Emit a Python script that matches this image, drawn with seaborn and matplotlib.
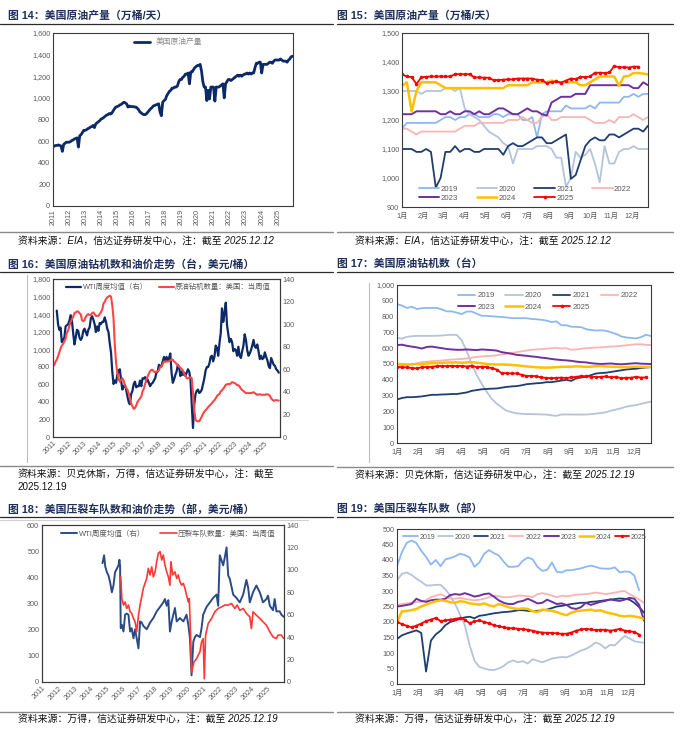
import numpy as np
import matplotlib
matplotlib.use("Agg")
import matplotlib.pyplot as plt
import seaborn as sns
from matplotlib.lines import Line2D
from matplotlib.ticker import FuncFormatter

# ---------------- data ----------------
hist_years = list(range(2011, 2026))
month_labels = ["1月", "2月", "3月", "4月", "5月", "6月", "7月", "8月", "9月", "10月", "11月", "12月"]
season_years = [2019, 2020, 2021, 2022, 2023, 2024, 2025]

# fig 14: US crude output, monthly from Jan 2011 (10k b/d)
us_prod = [
    545, 555, 560, 560, 565, 560, 555, 505, 570, 580, 590, 590,
    590, 595, 605, 610, 620, 625, 630, 545, 650, 660, 680, 700,
    700, 705, 715, 720, 730, 735, 745, 725, 760, 770, 780, 790,
    805, 810, 820, 830, 840, 845, 855, 850, 860, 880, 900, 915,
    920, 925, 935, 940, 950, 960, 955, 945, 915, 925, 920, 920,
    920, 915, 915, 905, 890, 870, 860, 850, 845, 845, 855, 870,
    885, 900, 910, 925, 930, 935, 940, 945, 870, 835, 960, 975,
    985, 1020, 1040, 1060, 1070, 1090, 1090, 1100, 1100, 1110, 1150, 1170,
    1170, 1190, 1200, 1220, 1220, 1230, 1130, 1240, 1240, 1260, 1280, 1290,
    1300, 1300, 1310, 1250, 1150, 1100, 1100, 975, 1070, 990, 1100, 1100,
    1100, 970, 1100, 1100, 1100, 1110, 1120, 1130, 1000, 1130, 1150, 1170,
    1170, 1160, 1170, 1180, 1190, 1200, 1210, 1200, 1210, 1200, 1210, 1220,
    1220, 1230, 1220, 1230, 1220, 1230, 1230, 1280, 1320, 1320, 1330, 1330,
    1230, 1310, 1310, 1310, 1310, 1320, 1330, 1330, 1320, 1340, 1350, 1350,
    1350, 1350, 1360, 1350, 1340, 1340, 1340, 1330, 1350, 1360, 1380, 1385,
]

# fig 15: weekly output by year
prod_2019 = [1170, 1190, 1190, 1190, 1190, 1190, 1190, 1190, 1200, 1210,
             1210, 1200, 1210, 1210, 1220, 1220, 1210, 1210, 1210, 1220,
             1220, 1210, 1220, 1220, 1220, 1200, 1200, 1210, 1140, 1220,
             1230, 1230, 1230, 1230, 1250, 1240, 1240, 1240, 1240, 1250,
             1240, 1260, 1260, 1260, 1260, 1260, 1280, 1280, 1290, 1280, 1290, 1290]
prod_2020 = [1300, 1300, 1300, 1300, 1290, 1300, 1300, 1300, 1300, 1310,
             1310, 1300, 1310, 1240, 1220, 1210, 1200, 1180, 1160, 1150,
             1140, 1120, 1110, 1050, 1100, 1100, 1100, 1100, 1110, 1110,
             1110, 1100, 1070, 1070, 970, 1000, 1090, 1070, 1080, 1100,
             1050, 985, 1110, 1050, 1050, 1090, 1100, 1100, 1110, 1100, 1100, 1100]
prod_2021 = [1100, 1100, 1100, 1090, 1090, 1100, 1090, 967, 1000, 1090,
             1090, 1110, 1090, 1100, 1100, 1090, 1090, 1100, 1100, 1100,
             1100, 1080, 1110, 1120, 1110, 1110, 1120, 1130, 1140, 1140,
             1120, 1120, 1130, 1140, 1150, 997, 1010, 1060, 1110, 1130,
             1140, 1130, 1130, 1150, 1150, 1140, 1150, 1160, 1170, 1170, 1160, 1180]
prod_2022 = [1170, 1170, 1160, 1150, 1160, 1160, 1160, 1160, 1160, 1160,
             1160, 1160, 1170, 1180, 1180, 1180, 1190, 1190, 1190, 1190,
             1190, 1190, 1200, 1200, 1200, 1210, 1200, 1190, 1190, 1210,
             1220, 1200, 1200, 1210, 1210, 1210, 1210, 1210, 1210, 1200,
             1190, 1190, 1190, 1200, 1190, 1210, 1210, 1210, 1220, 1210, 1200, 1210]
prod_2023 = [1220, 1220, 1220, 1230, 1230, 1230, 1230, 1230, 1220, 1220,
             1230, 1220, 1220, 1230, 1230, 1220, 1230, 1220, 1220, 1230,
             1240, 1240, 1230, 1220, 1220, 1230, 1240, 1230, 1230, 1220,
             1215, 1260, 1270, 1280, 1280, 1280, 1290, 1290, 1290, 1320,
             1320, 1320, 1320, 1320, 1320, 1320, 1320, 1320, 1310, 1310, 1330, 1320]
prod_2024 = [1318, 1330, 1230, 1300, 1330, 1330, 1330, 1330, 1320, 1310,
             1310, 1310, 1310, 1310, 1310, 1310, 1310, 1310, 1310, 1310,
             1310, 1310, 1320, 1320, 1320, 1320, 1320, 1330, 1330, 1330,
             1330, 1336, 1330, 1330, 1330, 1330, 1330, 1320, 1320, 1330,
             1340, 1350, 1350, 1350, 1350, 1318, 1350, 1352, 1362, 1362, 1360, 1357]
prod_2025 = [1357, 1350, 1348, 1324, 1347, 1349, 1350, 1350, 1350, 1350,
             1350, 1358, 1358, 1358, 1358, 1347, 1347, 1346, 1346, 1337,
             1338, 1339, 1340, 1340, 1343, 1343, 1343, 1343, 1339, 1338,
             1327, 1331, 1333, 1329, 1336, 1343, 1341, 1349, 1348, 1350,
             1363, 1363, 1362, 1364, 1386, 1382, 1382, 1381, 1384, 1384]

# fig 16: oil rig count monthly from Jan 2011, WTI monthly from Apr 2011
oil_rigs = [
    810, 820, 860, 880, 920, 960, 1010, 1040, 1060, 1090, 1120, 1190,
    1210, 1270, 1310, 1340, 1370, 1410, 1420, 1430, 1430, 1410, 1400, 1330,
    1320, 1330, 1370, 1390, 1400, 1390, 1390, 1410, 1420, 1400, 1380, 1380,
    1380, 1400, 1420, 1450, 1520, 1540, 1570, 1590, 1600, 1610, 1600, 1500,
    1350, 1050, 850, 730, 660, 630, 650, 670, 640, 590, 560, 540,
    500, 440, 380, 350, 320, 330, 360, 400, 420, 440, 460, 520,
    550, 600, 650, 690, 720, 750, 765, 765, 745, 740, 745, 750,
    760, 800, 800, 830, 860, 860, 860, 860, 865, 870, 885, 880,
    860, 850, 830, 820, 800, 790, 775, 760, 720, 700, 670, 670,
    675, 680, 670, 500, 300, 200, 180, 180, 180, 205, 235, 265,
    290, 305, 320, 340, 355, 370, 385, 405, 420, 440, 465, 480,
    490, 520, 530, 550, 570, 595, 600, 605, 600, 610, 625, 620,
    615, 605, 590, 590, 575, 550, 535, 525, 510, 500, 500, 500,
    500, 500, 505, 510, 500, 490, 480, 485, 485, 482, 480, 482,
    480, 486, 486, 482, 470, 440, 425, 412, 418, 420, 418, 414,
]
wti_weekly = [
    112, 100, 95, 97, 84, 86, 88, 98, 99,
    100, 103, 108, 103, 92, 82, 88, 95, 94, 88, 86, 88,
    94, 96, 93, 90, 95, 97, 105, 107, 104, 100, 93, 98,
    94, 101, 100, 102, 102, 106, 102, 96, 93, 83, 75, 58,
    47, 50, 48, 55, 59, 60, 50, 42, 45, 46, 42, 36,
    31, 29, 38, 41, 47, 49, 44, 45, 45, 50, 45, 52,
    52, 53, 49, 51, 48, 45, 47, 48, 50, 52, 57, 58,
    64, 62, 63, 67, 71, 67, 71, 68, 70, 74, 57, 48,
    51, 55, 58, 64, 62, 54, 58, 55, 57, 54, 57, 60,
    58, 51, 30, 8, 29, 38, 41, 42, 39, 40, 42, 47,
    52, 59, 62, 62, 65, 71, 72, 67, 71, 81, 79, 72,
    83, 92, 114, 102, 110, 119, 99, 91, 84, 87, 84, 76,
    78, 77, 72, 80, 72, 70, 76, 81, 91, 86, 77, 72,
    74, 77, 81, 86, 80, 79, 82, 76, 69, 72, 69, 70,
    75, 71, 68, 63, 61, 70, 67, 64, 63, 60, 59, 57,
]

# fig 17: weekly oil rigs by year
rigs_2019 = [878, 870, 855, 862, 848, 853, 855, 855, 855, 845, 833, 833, 825, 816, 832, 832, 818, 805,
             805, 802, 800, 797, 795, 790, 790, 790, 790, 785, 783, 780, 775, 765, 770, 745, 745, 736,
             735, 733, 720, 715, 712, 713, 710, 700, 690, 675, 668, 665, 662, 670, 685, 677]
rigs_2020 = [666, 660, 672, 676, 678, 678, 678, 678, 679, 680, 683, 685, 684, 650, 580, 500, 430, 375,
             325, 280, 250, 225, 205, 195, 188, 185, 183, 183, 182, 181, 180, 175, 172, 180, 181, 180,
             180, 180, 180, 183, 186, 190, 195, 205, 212, 220, 230, 235, 240, 248, 255, 262]
rigs_2021 = [275, 285, 290, 290, 292, 295, 300, 305, 305, 307, 308, 310, 310, 315, 320, 330, 335, 340,
             342, 344, 345, 350, 355, 358, 360, 365, 372, 375, 378, 380, 385, 385, 390, 395, 400, 393,
             410, 415, 420, 430, 440, 443, 445, 450, 455, 460, 465, 468, 470, 475, 478, 480]
rigs_2022 = [480, 490, 495, 497, 505, 512, 515, 518, 520, 522, 525, 528, 530, 532, 535, 540, 545, 548,
             550, 552, 555, 560, 565, 570, 575, 580, 585, 590, 592, 594, 597, 600, 602, 598, 600, 590,
             592, 596, 600, 602, 604, 605, 608, 610, 612, 615, 618, 622, 625, 625, 621, 620]
rigs_2023 = [620, 622, 615, 610, 605, 598, 608, 610, 605, 600, 595, 592, 590, 590, 592, 590, 588, 592,
             590, 588, 585, 575, 570, 565, 558, 555, 552, 548, 545, 540, 537, 532, 528, 525, 523, 520,
             515, 512, 510, 505, 502, 500, 502, 503, 500, 498, 500, 503, 505, 502, 501, 500]
rigs_2024 = [500, 499, 497, 498, 499, 500, 503, 505, 506, 508, 509, 510, 510, 508, 510, 512, 508, 505,
             500, 498, 497, 497, 496, 494, 492, 488, 485, 482, 479, 478, 477, 478, 480, 482, 483, 483,
             485, 484, 482, 483, 486, 487, 484, 483, 482, 480, 480, 482, 483, 482, 482, 482]
rigs_2025 = [480, 480, 478, 475, 472, 480, 480, 482, 486, 488, 486, 489, 486, 488, 484, 489, 480, 483,
             480, 474, 465, 442, 442, 440, 440, 432, 424, 425, 422, 415, 412, 411, 412, 414, 411, 416,
             418, 424, 422, 420, 417, 419, 421, 415, 419, 410, 413, 413, 419, 414, 415]

# fig 18: WTI (right axis) and frac spread count, read as (year, value) points
wti18_t = [2014.75, 2014.85, 2014.92, 2015.02, 2015.12, 2015.22, 2015.33, 2015.43, 2015.53, 2015.64,
           2015.74, 2015.80, 2015.84, 2015.88, 2015.95, 2016.05, 2016.15, 2016.25, 2016.36, 2016.46,
           2016.56, 2016.67, 2016.77, 2016.87, 2016.98, 2017.08, 2017.18, 2017.28, 2017.49, 2017.70,
           2017.90, 2018.11, 2018.32, 2018.52, 2018.62, 2018.73, 2018.83, 2018.93, 2019.04, 2019.14,
           2019.24, 2019.35, 2019.55, 2019.76, 2019.96, 2020.07, 2020.17, 2020.27, 2020.38, 2020.48,
           2020.58, 2020.79, 2020.89, 2020.99, 2021.20, 2021.41, 2021.61, 2021.82, 2021.92, 2022.02,
           2022.23, 2022.33, 2022.44, 2022.54, 2022.64, 2022.85, 2023.05, 2023.26, 2023.47, 2023.67,
           2023.78, 2023.88, 2024.08, 2024.29, 2024.50, 2024.70, 2024.91, 2025.01, 2025.12, 2025.32,
           2025.42, 2025.53, 2025.73, 2025.84, 2025.99]
wti18_v = [106, 113, 103, 98, 95, 89, 80, 86, 98, 101,
           104, 109, 103, 48, 51, 45, 60, 61, 60, 45,
           48, 39, 47, 39, 30, 54, 53, 50, 47, 53,
           57, 63, 67, 71, 74, 68, 73, 45, 54, 60,
           66, 54, 57, 54, 60, 51, 39, 6, 36, 40,
           42, 40, 48, 60, 67, 71, 75, 78, 68, 113,
           104, 111, 120, 95, 92, 78, 75, 71, 78, 91,
           84, 71, 80, 86, 80, 71, 74, 77, 68, 64,
           74, 63, 63, 60, 58]
fleet_t = [2015.88, 2015.95, 2016.05, 2016.15, 2016.25, 2016.36, 2016.46, 2016.56, 2016.67, 2016.77,
           2016.87, 2016.98, 2017.08, 2017.18, 2017.28, 2017.49, 2017.59, 2017.70, 2017.80, 2017.90,
           2018.01, 2018.11, 2018.21, 2018.32, 2018.42, 2018.52, 2018.62, 2018.73, 2018.83, 2018.93,
           2018.99, 2019.10, 2019.24, 2019.35, 2019.45, 2019.55, 2019.65, 2019.76, 2019.86, 2019.96,
           2020.07, 2020.13, 2020.21, 2020.27, 2020.33, 2020.42, 2020.58, 2020.68, 2020.79, 2020.89,
           2020.99, 2021.06, 2021.14, 2021.30, 2021.51, 2021.71, 2021.92, 2022.13, 2022.33, 2022.54,
           2022.75, 2022.95, 2023.10, 2023.26, 2023.47, 2023.67, 2023.88, 2023.98, 2024.08, 2024.29,
           2024.50, 2024.70, 2024.91, 2025.12, 2025.32, 2025.53, 2025.63, 2025.84, 2025.99]
fleet_v = [402, 319, 294, 306, 281, 294, 268, 262, 243, 230,
           192, 255, 294, 326, 358, 396, 434, 409, 440, 402,
           421, 460, 492, 498, 466, 485, 447, 421, 402, 370,
           460, 409, 421, 396, 409, 383, 370, 377, 358, 332,
           306, 319, 179, 38, 51, 77, 89, 102, 115, 153,
           166, 12, 179, 223, 243, 268, 281, 287, 294, 294,
           300, 281, 294, 274, 281, 262, 249, 204, 268, 255,
           243, 230, 217, 192, 172, 166, 179, 179, 166]

# fig 19: weekly frac spreads by year
frac_2019 = [380, 425, 455, 463, 455, 430, 410, 385, 400, 380, 402, 406, 412, 420, 416, 408, 378,
             392, 420, 432, 422, 415, 395, 378, 378, 380, 398, 408, 402, 378, 365, 368, 392, 362,
             360, 367, 367, 370, 373, 378, 382, 378, 373, 372, 372, 376, 360, 363, 362, 350, 302]
frac_2020 = [335, 355, 360, 352, 340, 330, 318, 318, 320, 320, 305, 285, 258, 225, 190, 125, 75,
             55, 50, 46, 45, 50, 58, 70, 76, 70, 74, 66, 80, 75, 70, 76, 82, 85, 87, 86, 92, 100,
             108, 113, 122, 134, 128, 115, 126, 125, 140, 155, 147, 138, 135, 133]
frac_2021 = [145, 157, 163, 168, 173, 165, 40, 140, 160, 172, 190, 200, 205, 210, 215, 217, 212,
             220, 222, 225, 228, 230, 232, 233, 235, 238, 238, 236, 235, 236, 238, 240, 245, 250,
             252, 255, 258, 260, 262, 262, 265, 266, 268, 270, 272, 274, 276, 275, 272, 262, 248, 230]
frac_2022 = [255, 258, 260, 262, 265, 265, 270, 280, 285, 290, 282, 275, 275, 278, 275, 272, 270,
             272, 275, 280, 285, 283, 280, 280, 282, 285, 285, 283, 280, 290, 293, 290, 285, 280,
             285, 283, 285, 288, 289, 290, 292, 295, 293, 290, 292, 295, 298, 300, 290, 282, 272, 262]
frac_2023 = [250, 252, 255, 258, 275, 268, 265, 270, 272, 272, 275, 287, 290, 288, 293, 288, 282,
             285, 290, 292, 282, 270, 262, 258, 258, 265, 268, 275, 268, 260, 262, 272, 265, 258,
             260, 255, 245, 242, 248, 262, 255, 260, 265, 268, 273, 270, 268, 272, 278, 275, 255, 205]
frac_2024 = [200, 234, 236, 238, 242, 250, 256, 262, 267, 270, 268, 264, 262, 267, 265, 260, 258,
             256, 260, 254, 250, 258, 254, 248, 244, 242, 244, 242, 235, 232, 240, 238, 236, 232,
             226, 222, 230, 235, 237, 238, 240, 236, 238, 232, 228, 225, 220, 218, 220, 218, 215, 210]
frac_2025 = [201, 193, 188, 183, 188, 195, 203, 208, 213, 203, 205, 208, 210, 213, 208, 196, 202,
             205, 200, 196, 190, 186, 183, 180, 180, 178, 177, 175, 172, 168, 166, 165, 165, 163,
             162, 162, 166, 172, 176, 178, 176, 174, 175, 175, 172, 174, 178, 172, 170, 168, 159]

# ---------------- style ----------------
sns.set_style("white")
plt.rcParams["font.family"] = ["Liberation Sans", "Noto Sans CJK SC", "DejaVu Sans"]
plt.rcParams["axes.unicode_minus"] = False

TITLE_C = "#1F2F5C"
NAVY = "#0C2B66"
RED = "#FF4545"
TICK_C = "#595959"
season_colors = {2019: "#8DB8F0", 2020: "#B5C4DA", 2021: "#1F3E6E", 2022: "#F9B4B4",
                 2023: "#7030A0", 2024: "#FFC000", 2025: "#FF0000"}
season_lw = {2019: 1.3, 2020: 1.3, 2021: 1.3, 2022: 1.3, 2023: 1.4, 2024: 1.8, 2025: 1.3}
comma = FuncFormatter(lambda v, p: f"{v:,.0f}")

W, H = 680, 745
fig = plt.figure(figsize=(W / 100, H / 100), dpi=100)


def box(l, t, r, b):
    return [l / W, 1 - b / H, (r - l) / W, (b - t) / H]


def fline(xs, ys, color, lw):
    fig.add_artist(Line2D([x / W for x in xs], [1 - y / H for y in ys],
                          transform=fig.transFigure, color=color, lw=lw))


def header(x, y, text, x0, x1, ybot, src, src_y):
    fig.text(x / W, 1 - y / H, text, fontsize=7.8, fontweight="bold", color=TITLE_C,
             ha="left", va="center")
    fline([x0, x1], [y + 8, y + 8], "#2b2b2b", 0.9)
    fline([x0, x1], [ybot, ybot], "#8a8a8a", 1.0)
    for i, line in enumerate(src):
        fig.text((x0 + 18) / W, 1 - (src_y + 13 * i) / H, line, fontsize=7.1,
                 style="italic" if i == 0 else "normal",
                 color="#111111", ha="left", va="center")


def style_ax(ax):
    for s in ax.spines.values():
        s.set_color("#3a3a3a")
        s.set_linewidth(0.8)
    ax.tick_params(labelsize=5.2, labelcolor=TICK_C, length=0, pad=2)
    ax.set_xlabel("")
    ax.set_ylabel("")
    ax.grid(False)


def draw_season(ax, series, legend_kw, ncol):
    for yr, vals in zip(season_years, series):
        x = np.arange(len(vals)) * 12 / 52
        kw = dict(marker="o", markersize=2.6, markeredgewidth=0) if yr == 2025 else {}
        sns.lineplot(x=x, y=vals, ax=ax, color=season_colors[yr], lw=season_lw[yr],
                     label=str(yr), **kw)
    ax.set_xlim(0, 51 * 12 / 52)
    ax.set_xticks(range(12))
    ax.set_xticklabels(month_labels)
    ax.yaxis.set_major_formatter(comma)
    style_ax(ax)
    ax.tick_params(axis="x", pad=4)
    handles, labels = ax.get_legend_handles_labels()
    # legend fills column by column; reorder so entries read row by row
    nrow = int(np.ceil(len(handles) / ncol))
    order = [r * ncol + c for c in range(ncol) for r in range(nrow) if r * ncol + c < len(handles)]
    ax.legend([handles[i] for i in order], [labels[i] for i in order], ncol=ncol,
              frameon=False, labelcolor=TICK_C, **legend_kw)


def year_axis(ax, rot):
    ax.set_xticks(hist_years)
    if rot == 90:
        ax.set_xticklabels([str(y) for y in hist_years], rotation=90, va="top", ha="center")
    else:
        ax.set_xticklabels([str(y) for y in hist_years], rotation=45, ha="right",
                           rotation_mode="anchor")


# ---- fig 14 ----
header(8, 16, "图 14：美国原油产量（万桶/天）", 0, 333, 232,
       ["资料来源：EIA，信达证券研发中心，注：截至 2025.12.12"], 241)
ax1 = fig.add_axes(box(53, 33, 293, 206))
x_prod = 2011 + np.arange(len(us_prod)) / 12
sns.lineplot(x=x_prod, y=us_prod, ax=ax1, color=NAVY, lw=2.0, label="美国原油产量")
ax1.set_xlim(2011, 2025.95)
ax1.set_ylim(0, 1600)
ax1.set_yticks(range(0, 1601, 200))
ax1.yaxis.set_major_formatter(comma)
year_axis(ax1, 90)
style_ax(ax1)
ax1.legend(loc="upper left", bbox_to_anchor=(0.31, 1.01), frameon=False, fontsize=5.6,
           handlelength=2.0, labelcolor="#8c8c8c")

# ---- fig 15 ----
header(337, 16, "图 15：美国原油产量（万桶/天）", 337, 673, 232,
       ["资料来源：EIA，信达证券研发中心，注：截至 2025.12.12"], 241)
ax2 = fig.add_axes(box(402, 33, 648, 207))
draw_season(ax2, [prod_2019, prod_2020, prod_2021, prod_2022, prod_2023, prod_2024, prod_2025],
            dict(loc="lower left", bbox_to_anchor=(0.04, -0.01), fontsize=5.6,
                 handlelength=2.6, handletextpad=0.2, columnspacing=2.4, labelspacing=0.15), 4)
ax2.set_ylim(900, 1500)
ax2.set_yticks(range(900, 1501, 100))

# ---- fig 16 ----
header(8, 264, "图 16：美国原油钻机数和油价走势（台，美元/桶）", 0, 333, 466,
       ["资料来源：贝克休斯，万得，信达证券研发中心，注：截至", "2025.12.19"], 474)
fline([27, 27], [275, 462], "#bfbfbf", 0.8)
ax3 = fig.add_axes(box(53, 279, 280, 437))
x_rig = 2011 + np.arange(len(oil_rigs)) / 12
x_wti = 2011.25 + np.arange(len(wti_weekly)) / 12
ax3b = ax3.twinx()
sns.lineplot(x=x_wti, y=wti_weekly, ax=ax3b, color=NAVY, lw=1.6, label="WTI周度均值（右）")
sns.lineplot(x=x_rig, y=oil_rigs, ax=ax3, color=RED, lw=1.5, label="原油钻机数量：美国：当周值")
ax3.set_zorder(ax3b.get_zorder() + 1)
ax3.patch.set_visible(False)
ax3.set_xlim(2011, 2026)
ax3.set_ylim(0, 1800)
ax3.set_yticks(range(0, 1801, 200))
ax3.yaxis.set_major_formatter(comma)
ax3b.set_ylim(0, 140)
ax3b.set_yticks(range(0, 141, 20))
year_axis(ax3, 45)
style_ax(ax3)
style_ax(ax3b)
ax3.tick_params(axis="x", direction="in", length=2.5, color="#1a1a3a")
h1, l1 = ax3b.get_legend_handles_labels()
h2, l2 = ax3.get_legend_handles_labels()
ax3b.get_legend().remove()
ax3.legend(h1 + h2, l1 + l2, loc="upper left", bbox_to_anchor=(0.03, 1.01), ncol=2,
           frameon=False, fontsize=5.3, handlelength=2.0, handletextpad=0.2,
           columnspacing=1.5, labelcolor=TICK_C)

# ---- fig 17 ----
header(337, 264, "图 17：美国原油钻机数（台）", 337, 673, 467,
       ["资料来源：贝克休斯，信达证券研发中心，注：截至 2025.12.19"], 475)
fline([369, 369], [283, 462], "#bfbfbf", 0.8)
ax4 = fig.add_axes(box(397, 285, 651, 443))
draw_season(ax4, [rigs_2019, rigs_2020, rigs_2021, rigs_2022, rigs_2023, rigs_2024, rigs_2025],
            dict(loc="upper right", bbox_to_anchor=(0.975, 1.0), fontsize=5.6,
                 handlelength=2.2, handletextpad=0.3, columnspacing=1.4, labelspacing=0.5), 4)
ax4.set_ylim(0, 1000)
ax4.set_yticks(range(0, 1001, 100))

# ---- fig 18 ----
header(8, 509, "图 18：美国压裂车队数和油价走势（部，美元/桶）", 0, 333, 712,
       ["资料来源：万得，信达证券研发中心，注：截至 2025.12.19"], 719)
fline([0, 308], [520, 520], "#d0d0d0", 0.8)
ax5 = fig.add_axes(box(42, 525, 284, 682))
ax5b = ax5.twinx()
sns.lineplot(x=wti18_t, y=wti18_v, ax=ax5b, color="#2C4B85", lw=1.4, label="WTI周度均值（右）")
sns.lineplot(x=fleet_t, y=fleet_v, ax=ax5, color="#FF3838", lw=1.2, label="压裂车队数量：美国：当周值")
ax5.set_zorder(ax5b.get_zorder() + 1)
ax5.patch.set_visible(False)
ax5.set_xlim(2011, 2026)
ax5.set_ylim(0, 600)
ax5.set_yticks(range(0, 601, 100))
ax5b.set_ylim(0, 140)
ax5b.set_yticks(range(0, 141, 20))
year_axis(ax5, 45)
style_ax(ax5)
style_ax(ax5b)
ax5.tick_params(axis="x", direction="in", length=2.5, color="#1a1a3a")
h1, l1 = ax5b.get_legend_handles_labels()
h2, l2 = ax5.get_legend_handles_labels()
ax5b.get_legend().remove()
ax5.legend(h1 + h2, l1 + l2, loc="upper left", bbox_to_anchor=(0.05, 1.01), ncol=2,
           frameon=False, fontsize=5.4, handlelength=2.2, handletextpad=0.2,
           columnspacing=2.0, labelcolor=TICK_C)

# ---- fig 19 ----
header(337, 509, "图 19：美国压裂车队数（部）", 337, 673, 712,
       ["资料来源：万得，信达证券研发中心，注：截至 2025.12.19"], 719)
ax6 = fig.add_axes(box(397, 529, 644, 684))
draw_season(ax6, [frac_2019, frac_2020, frac_2021, frac_2022, frac_2023, frac_2024, frac_2025],
            dict(loc="upper left", bbox_to_anchor=(0.0, 1.01), fontsize=5.0,
                 handlelength=2.1, handletextpad=0.25, columnspacing=0.45), 7)
ax6.set_ylim(0, 500)
ax6.set_yticks(range(0, 501, 50))

fig.savefig("out.png", dpi=100)
